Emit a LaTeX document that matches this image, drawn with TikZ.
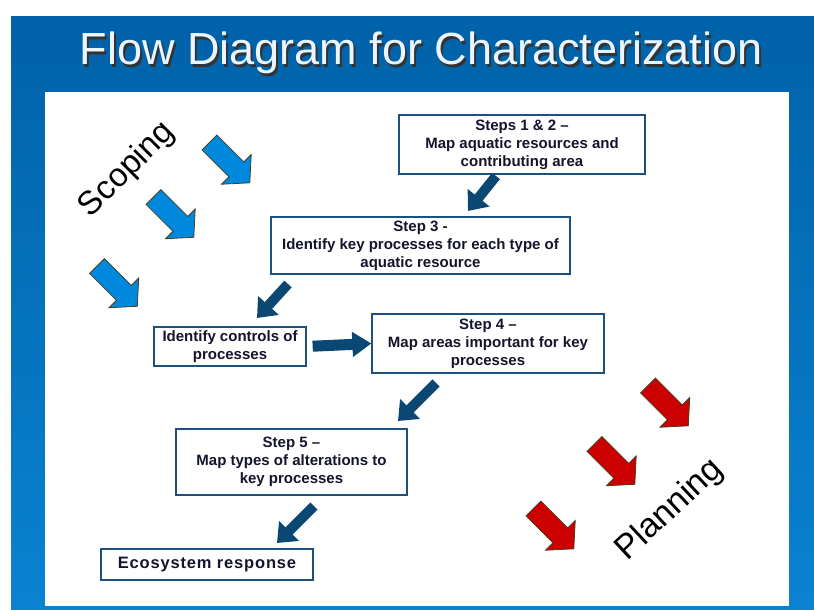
\documentclass[tikz,border=0pt]{standalone}
\usepackage{fontspec}
\setmainfont{Liberation Sans}
\usetikzlibrary{arrows.meta}
\definecolor{bgtop}{RGB}{0,98,168}
\definecolor{bgbot}{RGB}{10,130,210}
\definecolor{boxline}{RGB}{30,80,125}
\definecolor{boxtext}{RGB}{20,20,45}
\definecolor{darrow}{RGB}{10,72,115}
\definecolor{lblue}{RGB}{0,136,221}
\definecolor{dred}{RGB}{204,0,0}
\definecolor{olivedge}{RGB}{70,64,30}
\definecolor{titlecol}{RGB}{235,245,255}
\newcommand\blkarrow[3]{%
  \filldraw[fill=#3, draw=olivedge, line width=0.8pt, shift={(#1,#2)}, rotate=-45]
   (0,-10.5) -- (38,-10.5) -- (38,-21) -- (57,0) -- (38,21) -- (38,10.5) -- (0,10.5) -- cycle;}
\tikzset{
  flowbox/.style={draw=boxline, line width=1.3pt, fill=white, align=center,
    font=\bfseries\fontsize{15}{18}\selectfont, text=boxtext, inner sep=0pt},
  flowarrow/.style={draw=darrow, line width=10pt, -{Triangle[length=17pt,width=27pt]}},
  sidelabel/.style={font=\fontsize{33}{33}\selectfont, text=black}
}
\begin{document}
\begin{tikzpicture}[x=1pt,y=-1pt]
\useasboundingbox (0,0) rectangle (814,610);
\fill[white] (0,0) rectangle (814,610);
\shade[top color=bgtop, bottom color=bgbot] (11,17) rectangle (814,610);
\fill[white] (45,92) rectangle (789,606);
% title
\node[font=\fontsize{45}{50}\selectfont, text=black!80, anchor=base] (titleshadow) at (423,67) {Flow Diagram for Characterization};
\node[font=\fontsize{45}{50}\selectfont, text=titlecol, anchor=base] (title) at (421,65) {Flow Diagram for Characterization};
% side labels
\node[sidelabel, rotate=45] (scoping) at (127,170) {Scoping};
\node[sidelabel, font=\fontsize{34}{34}\selectfont, rotate=43] (planning) at (670,510) {Planning};
% block arrows
\blkarrow{209.5}{142.5}{lblue}
\blkarrow{153.5}{197}{lblue}
\blkarrow{97}{266}{lblue}
\blkarrow{648}{385.5}{dred}
\blkarrow{594.5}{444}{dred}
\blkarrow{533.5}{508.5}{dred}
% boxes
\node[flowbox, minimum width=246pt, minimum height=59pt] (s12) at (522,144.5)
  {Steps 1 \& 2 --\\Map aquatic resources and\\contributing area};
\node[flowbox, minimum width=299pt, minimum height=57pt] (s3) at (420.5,245.5)
  {Step 3 -\\Identify key processes for each type of\\aquatic resource};
\node[flowbox, minimum width=152pt, minimum height=39pt] (ctrl) at (230,346.5)
  {Identify controls of\\processes};
\node[flowbox, minimum width=232pt, minimum height=59pt] (s4) at (488,343.5)
  {Step 4 --\\Map areas important for key\\processes};
\node[flowbox, minimum width=231pt, minimum height=66pt] (s5) at (291.5,462)
  {Step 5 --\\Map types of alterations to\\key processes};
\node[flowbox, minimum width=212pt, minimum height=31pt,
  font=\bfseries\fontsize{16.5}{18}\selectfont\addfontfeature{LetterSpace=5}] (eco) at (207,564.5)
  {Ecosystem response};
% connector ends
\coordinate (a1s) at (496,176);  \coordinate (a1e) at (468,211);
\coordinate (a2s) at (288,284);  \coordinate (a2e) at (257,318);
\coordinate (a4s) at (436,383);  \coordinate (a4e) at (398,421);
\coordinate (a5s) at (314,506);  \coordinate (a5e) at (277,543);
\draw[flowarrow] (a1s) -- (a1e);
\draw[flowarrow] (a2s) -- (a2e);
\draw[flowarrow, line width=11pt, -{Triangle[length=19pt,width=24pt]}, shorten <=6pt] (ctrl.east) -- (s4.west);
\draw[flowarrow] (a4s) -- (a4e);
\draw[flowarrow] (a5s) -- (a5e);
\end{tikzpicture}
\end{document}
